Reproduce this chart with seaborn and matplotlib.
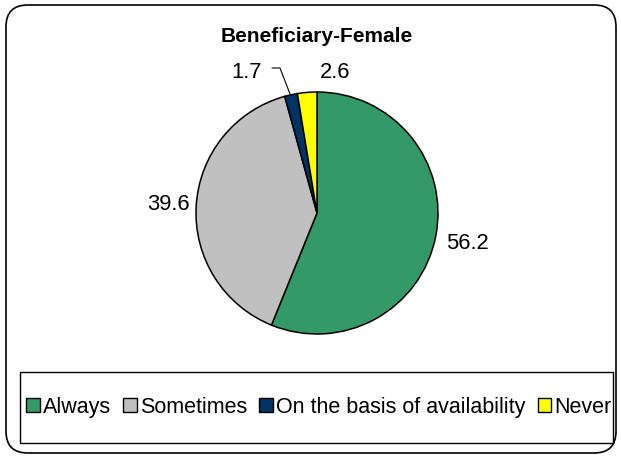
import numpy as np
import matplotlib
matplotlib.use("Agg")
import matplotlib.pyplot as plt
from matplotlib.patches import Patch, Rectangle, FancyBboxPatch
import seaborn as sns

sns.set_style("white")
plt.rcParams['font.family'] = ['Liberation Sans', 'DejaVu Sans']
plt.rcParams['text.color'] = 'black'

title = "Beneficiary-Female"
categories = ["Always", "Sometimes", "On the basis of availability", "Never"]
values = [56.2, 39.6, 1.7, 2.6]
colors = ["#339966", "#C0C0C0", "#003366", "#FFFF00"]

W, H = 621, 460
fig = plt.figure(figsize=(W / 100, H / 100), dpi=100)
ax = fig.add_axes([0, 0, 1, 1])

cx, cy, r = 317, H - 214, 121
wedges, _ = ax.pie(values, colors=colors, startangle=90, counterclock=False,
                   center=(cx, cy), radius=r,
                   wedgeprops=dict(edgecolor="black", linewidth=1.1))
ax.set_xlim(0, W)
ax.set_ylim(0, H)
ax.set_aspect("equal")
ax.axis("off")

# value labels
fs = 15.8
cum = np.cumsum([0] + values[:-1])
for i, (v, c0) in enumerate(zip(values, cum)):
    ang = np.deg2rad(90 - (c0 + v / 2) * 3.6)
    if i == 0:
        d = 1.27
        ax.text(cx + d * r * np.cos(ang), cy + d * r * np.sin(ang), f"{v}",
                ha="center", va="center", fontsize=fs, color="black")
    elif i == 1:
        d = 1.23
        ax.text(cx + d * r * np.cos(ang), cy + d * r * np.sin(ang), f"{v}",
                ha="center", va="center", fontsize=fs, color="black")
    elif i == 2:
        tx, ty = 247, H - 73
        ax.text(tx, ty, f"{v}", ha="center", va="center", fontsize=fs, color="black")
        ax.plot([272, 280, 290], [H - 69, H - 69, H - 95], color="black", lw=0.8)
    else:
        ax.text(335, H - 73, f"{v}", ha="center", va="center", fontsize=fs, color="black")

ax.text(317, H - 37, title, ha="center", va="center", fontsize=15,
        fontweight="bold", color="black")

# outer rounded border
fig.patches.append(FancyBboxPatch((6 / W, 6 / H), 610 / W, 448 / H,
                                  boxstyle="round,pad=0,rounding_size=0.035",
                                  transform=fig.transFigure, fill=False,
                                  edgecolor="black", linewidth=1.2,
                                  mutation_aspect=W / H))
# legend box
fig.patches.append(Rectangle((20 / W, (H - 444) / H), 593 / W, 71 / H,
                             transform=fig.transFigure, fill=False,
                             edgecolor="black", linewidth=1.0))

handles = [Patch(facecolor=c, edgecolor="black", linewidth=1.0) for c in colors]
leg = fig.legend(handles, categories, loc="center", bbox_to_anchor=(319 / W, (H - 408) / H),
                 ncol=4, frameon=False, fontsize=15.5, handlelength=0.64, handleheight=0.64,
                 handletextpad=0.15, columnspacing=0.55, borderpad=0)
for t in leg.get_texts():
    t.set_color("black")

fig.savefig("out.png", dpi=100)
